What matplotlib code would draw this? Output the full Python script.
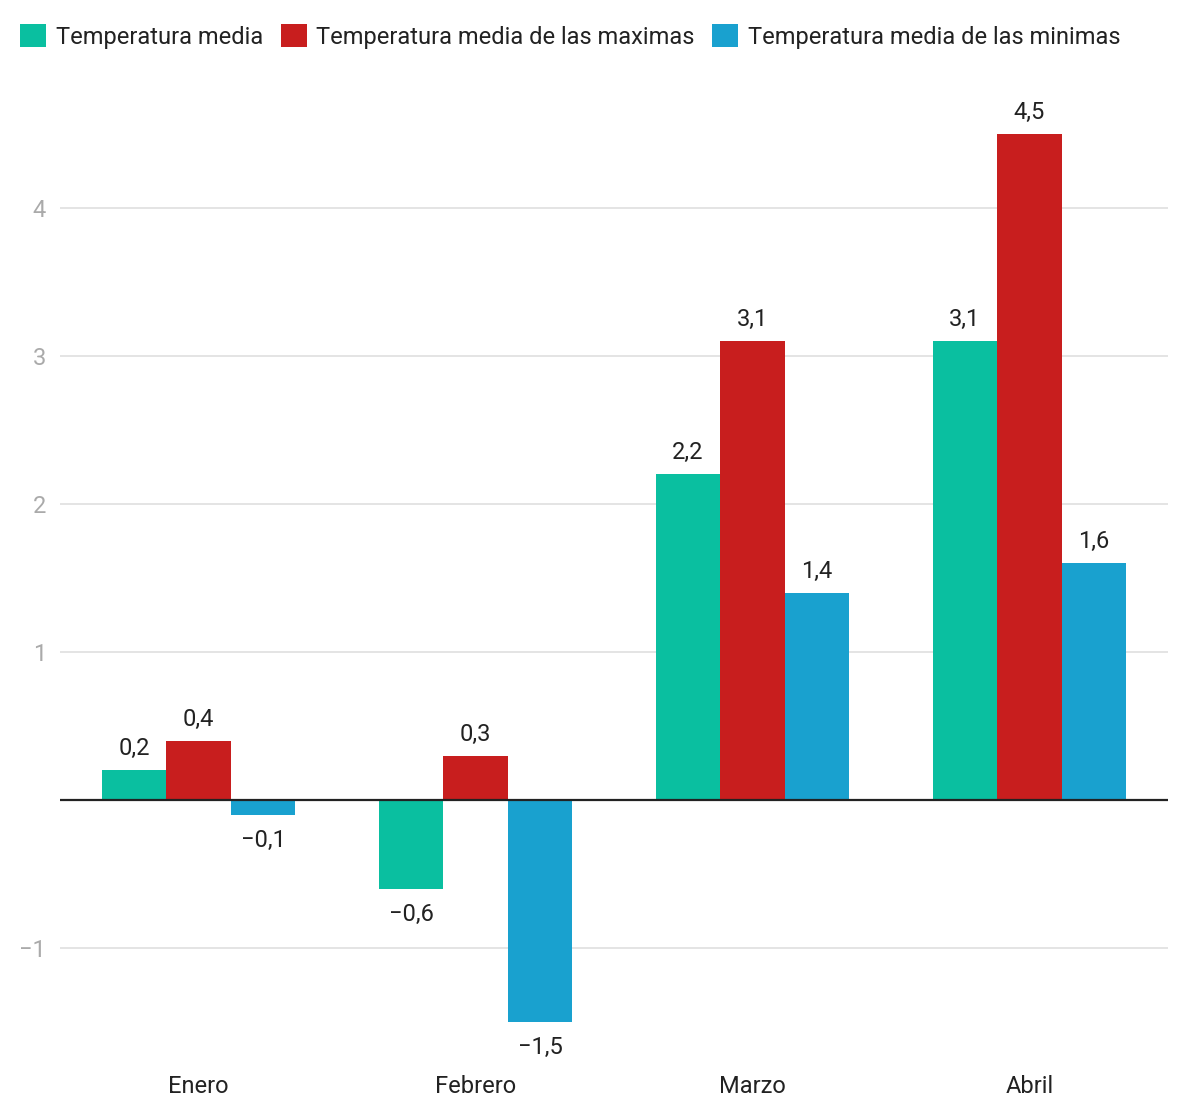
import matplotlib
matplotlib.use('Agg')
import matplotlib.pyplot as plt
from matplotlib.patches import Patch
import numpy as np

plt.rcParams['font.family'] = ['Roboto', 'DejaVu Sans']

# data
months = ['Enero', 'Febrero', 'Marzo', 'Abril']
series_names = ['Temperatura media',
                'Temperatura media de las maximas',
                'Temperatura media de las minimas']
t_media = [0.2, -0.6, 2.2, 3.1]
t_max = [0.4, 0.3, 3.1, 4.5]
t_min = [-0.1, -1.5, 1.4, 1.6]
yticks = [-1, 1, 2, 3, 4]

colors = ['#0abfa0', '#c81e1e', '#19a1cf']

W, H = 1188, 1118
fig = plt.figure(figsize=(W / 100, H / 100), dpi=100)
# axes in pixel coordinates: x 60..1168, y 80..1065
ax = fig.add_axes([60 / W, 1 - 1065 / H, 1108 / W, 985 / H])

x = np.arange(len(months))
bw = 0.233
for i, vals in enumerate([t_media, t_max, t_min]):
    xs = x + (i - 1) * bw
    ax.bar(xs, vals, width=bw, color=colors[i], zorder=3)
    for xi, v in zip(xs, vals):
        lbl = f'{v:.1f}'.replace('.', ',').replace('-', '\u2212')
        dy = 17.3 if v >= 0 else -16.6
        ax.annotate(lbl, (xi, v), xytext=(0, dy), textcoords='offset points',
                    ha='center', va='center_baseline', fontsize=17, color='#222222')

ax.set_xlim(-0.5, len(months) - 0.5)
ax.set_ylim(-(1065 - 800) / 148, (800 - 80) / 148)
ax.set_yticks(yticks)
ax.set_yticklabels([str(t).replace('-', '\u2212') for t in yticks])
ax.set_xticks(x)
ax.set_xticklabels(months)
ax.tick_params(axis='y', length=0, pad=10, labelsize=17, labelcolor='#aaaaaa')
ax.tick_params(axis='x', length=0, pad=7, labelsize=17, labelcolor='#222222')
ax.grid(axis='y', color='#e2e2e2', linewidth=1.3, zorder=0)
ax.axhline(0, color='#222222', linewidth=1.6, zorder=4)
for s in ax.spines.values():
    s.set_visible(False)

handles = [Patch(facecolor=c, edgecolor='none') for c in colors]
fig.legend(handles, series_names, loc='upper left', bbox_to_anchor=(11 / W, 1 - 15 / H),
           ncol=3, frameon=False, fontsize=17, handlelength=1.1, handleheight=1.1,
           handletextpad=0.42, columnspacing=0.72, borderaxespad=0, labelcolor='#222222')

fig.savefig('out.png', dpi=100)
